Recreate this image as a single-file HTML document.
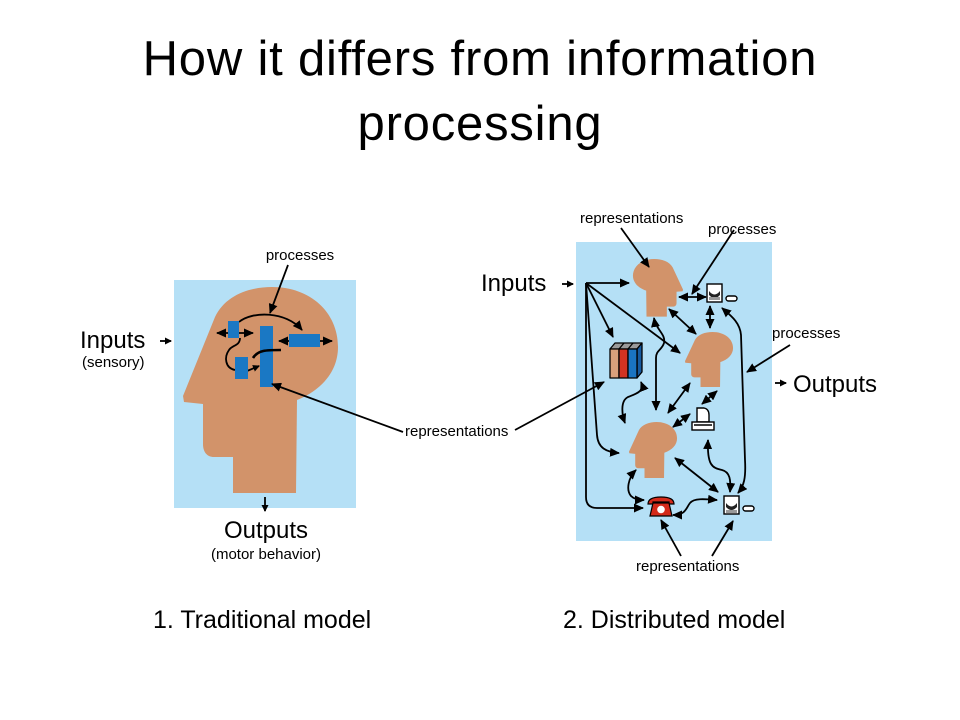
<!DOCTYPE html>
<html><head><meta charset="utf-8"><style>
html,body{margin:0;padding:0;background:#fff;}
svg{display:block;}
text{font-family:"Liberation Sans",Arial,sans-serif;fill:#000;}
</style></head><body>
<svg width="960" height="720" viewBox="0 0 960 720" xmlns="http://www.w3.org/2000/svg">
<defs>
<marker id="ah" markerUnits="userSpaceOnUse" markerWidth="10" markerHeight="9" refX="9" refY="4.5" orient="auto-start-reverse">
<path d="M0,0 L10,4.5 L0,9 Z" fill="#000"/>
</marker>
<marker id="as" markerUnits="userSpaceOnUse" markerWidth="7" markerHeight="7" refX="6" refY="3.5" orient="auto">
<path d="M0,0 L7,3.5 L0,7 Z" fill="#000"/>
</marker>
<path id="head" d="M215,317 C225,296 248,287 272,287 C310,287 338,312 338,347 C338,371 322,390 297,400 L296,493 L233,493 L233,457 L214,457 C207,457 203,452 203,444 L203,404 L184,402 L183,396 Z"/>
</defs>

<!-- Title -->
<text x="480" y="75" font-size="49" text-anchor="middle" letter-spacing="0.8">How it differs from information</text>
<text x="480" y="140" font-size="49" text-anchor="middle" letter-spacing="0.8">processing</text>

<!-- ============ LEFT DIAGRAM ============ -->
<rect x="174" y="280" width="182" height="228" fill="#b5e0f6"/>
<use href="#head" fill="#d2936a"/>

<g stroke="#000" stroke-width="1.8" fill="none">
  <line x1="217" y1="333" x2="253" y2="333" marker-start="url(#ah)" marker-end="url(#ah)"/>
  <line x1="279" y1="341" x2="332" y2="341" marker-start="url(#ah)" marker-end="url(#ah)"/>
  <path d="M239,322 C252,311 286,311 302,330" marker-end="url(#ah)"/>
  <path d="M240,338 C240,346 232,345 229,350 C224,357 225,368 235,370"/>
  <line x1="247" y1="371" x2="259" y2="366" marker-end="url(#as)"/>
</g>
<g fill="#1a78c4">
  <rect x="228" y="321" width="11" height="17"/>
  <rect x="260" y="326" width="13" height="61"/>
  <rect x="289" y="334" width="31" height="13"/>
  <rect x="235" y="357" width="13" height="22"/>
</g>
<path d="M253,358 C258,350 266,350 281,350" stroke="#000" stroke-width="2.6" fill="none"/>

<!-- ============ RIGHT DIAGRAM BACKGROUND ============ -->
<rect x="576" y="242" width="196" height="299" fill="#b5e0f6"/>

<g stroke="#000" stroke-width="1.8" fill="none">
  <line x1="288" y1="265" x2="270" y2="313" marker-end="url(#ah)"/>
  <line x1="403" y1="432" x2="272" y2="384" marker-end="url(#ah)"/>
  <line x1="515" y1="430" x2="604" y2="382" marker-end="url(#ah)"/>
  <line x1="160" y1="341" x2="171" y2="341" marker-end="url(#as)"/>
  <line x1="265" y1="497" x2="265" y2="511" marker-end="url(#as)"/>
</g>

<text x="300" y="260" font-size="15" text-anchor="middle">processes</text>
<text x="80" y="348" font-size="24">Inputs</text>
<text x="82" y="367" font-size="15">(sensory)</text>
<text x="266" y="538" font-size="24" text-anchor="middle">Outputs</text>
<text x="266" y="559" font-size="15" text-anchor="middle">(motor behavior)</text>
<text x="405" y="436" font-size="15">representations</text>

<!-- heads -->
<use href="#head" fill="#d2936a" transform="translate(683,259) scale(-0.323,0.28) translate(-183,-287)"/>
<use href="#head" fill="#d2936a" transform="translate(685,332) scale(0.31,0.267) translate(-183,-287)"/>
<use href="#head" fill="#d2936a" transform="translate(629,422) scale(0.31,0.272) translate(-183,-287)"/>

<!-- bookshelf -->
<g stroke="#000" stroke-width="1.3" stroke-linejoin="round">
  <path d="M610,349 L615,343 L642,343 L637,349 Z" fill="#9a9a9a"/>
  <path d="M637,349 L642,343 L642,372 L637,378 Z" fill="#155aa0"/>
  <rect x="610" y="349" width="9" height="29" fill="#d9a07c"/>
  <rect x="619" y="349" width="9" height="29" fill="#d23322"/>
  <rect x="628" y="349" width="9" height="29" fill="#1a74c2"/>
  <line x1="619" y1="349" x2="624" y2="343"/>
  <line x1="628" y1="349" x2="633" y2="343"/>
</g>

<!-- terminal icon 1 -->
<g stroke="#000" stroke-width="1.4">
  <rect x="707" y="284" width="15" height="18" fill="#fff"/>
  <path d="M709,291 Q714.5,298 720,291 L720,295 Q714.5,301 709,295 Z" fill="#222" stroke="none"/>
  <rect x="709" y="297" width="11" height="3" fill="#999" stroke="none"/>
  <rect x="726" y="296" width="11" height="5" rx="2.5" fill="#fff"/>
</g>
<!-- terminal icon 3 -->
<g stroke="#000" stroke-width="1.4">
  <rect x="724" y="496" width="15" height="18" fill="#fff"/>
  <path d="M726,503 Q731.5,510 737,503 L737,507 Q731.5,513 726,507 Z" fill="#222" stroke="none"/>
  <rect x="726" y="510" width="11" height="3" fill="#999" stroke="none"/>
  <rect x="743" y="506" width="11" height="5" rx="2.5" fill="#fff"/>
</g>
<!-- printer -->
<g stroke="#000" stroke-width="1.4" fill="#fff">
  <path d="M697,422 L697,408 L704,408 Q709,409 709,415 L709,422 Z"/>
  <rect x="692" y="422" width="22" height="8"/>
  <line x1="694" y1="425" x2="712" y2="425"/>
</g>
<!-- phone -->
<g stroke="#000" stroke-width="1.2">
  <path d="M648,504 Q648,497 661,497 Q674,497 674,504 L669,504 L669,502 L653,502 L653,504 Z" fill="#d42a1a"/>
  <path d="M653,503 L669,503 L672,516 L650,516 Z" fill="#d42a1a"/>
  <circle cx="661" cy="509.5" r="3.8" fill="#fff" stroke="none"/>
</g>

<!-- right diagram connectors -->
<g stroke="#000" stroke-width="1.8" fill="none">
  <line x1="562" y1="284" x2="573" y2="284" marker-end="url(#as)"/>
  <line x1="586" y1="283" x2="629" y2="283" marker-end="url(#ah)"/>
  <line x1="586" y1="283" x2="613" y2="337" marker-end="url(#ah)"/>
  <line x1="586" y1="283" x2="680" y2="353" marker-end="url(#ah)"/>
  <path d="M586,283 L586,497 Q586,508 597,508 L643,508" marker-end="url(#ah)"/>
  <path d="M586,283 L597,435 C598,448 606,452 619,453" marker-end="url(#ah)"/>

  <line x1="621" y1="228" x2="649" y2="267" marker-end="url(#ah)"/>
  <line x1="734" y1="230" x2="692" y2="294" marker-end="url(#ah)"/>
  <line x1="679" y1="297" x2="706" y2="297" marker-start="url(#ah)" marker-end="url(#ah)"/>
  <line x1="710" y1="306" x2="710" y2="328" marker-start="url(#ah)" marker-end="url(#ah)"/>
  <line x1="669" y1="309" x2="696" y2="334" marker-start="url(#ah)" marker-end="url(#ah)"/>
  <path d="M722,308 C730,315 740,322 741,335 L745,460 C746,478 744,486 738,493" marker-start="url(#ah)" marker-end="url(#ah)"/>
  <line x1="790" y1="345" x2="747" y2="372" marker-end="url(#ah)"/>

  <path d="M654,318 C656,330 666,334 664,343 C662,350 656,350 656,358 L656,410" marker-start="url(#ah)" marker-end="url(#ah)"/>
  <path d="M641,382 C645,392 635,394 628,397 C620,401 622,415 625,423" marker-start="url(#ah)" marker-end="url(#ah)"/>
  <line x1="668" y1="413" x2="690" y2="383" marker-start="url(#ah)" marker-end="url(#ah)"/>
  <line x1="702" y1="404" x2="717" y2="391" marker-start="url(#ah)" marker-end="url(#ah)"/>
  <line x1="673" y1="427" x2="690" y2="414" marker-start="url(#ah)" marker-end="url(#ah)"/>
  <path d="M708,440 C707,465 712,468 722,470 C730,472 731,480 730,492" marker-start="url(#ah)" marker-end="url(#ah)"/>
  <line x1="675" y1="458" x2="718" y2="492" marker-start="url(#ah)" marker-end="url(#ah)"/>
  <path d="M673,515 C686,515 686,508 690,503 C694,498 705,499 717,500" marker-start="url(#ah)" marker-end="url(#ah)"/>
  <path d="M636,470 C628,478 626,490 631,496 C634,499 638,500 644,500" marker-start="url(#ah)" marker-end="url(#ah)"/>
  <line x1="681" y1="556" x2="661" y2="520" marker-end="url(#ah)"/>
  <line x1="712" y1="556" x2="733" y2="521" marker-end="url(#ah)"/>
  <line x1="775" y1="383" x2="786" y2="383" marker-end="url(#as)"/>
</g>

<text x="580" y="223" font-size="15">representations</text>
<text x="708" y="234" font-size="15">processes</text>
<text x="772" y="338" font-size="15">processes</text>
<text x="636" y="571" font-size="15">representations</text>
<text x="481" y="291" font-size="24">Inputs</text>
<text x="793" y="392" font-size="24">Outputs</text>

<!-- captions -->
<text x="153" y="628" font-size="25">1. Traditional model</text>
<text x="563" y="628" font-size="25">2. Distributed model</text>
</svg>
</body></html>
